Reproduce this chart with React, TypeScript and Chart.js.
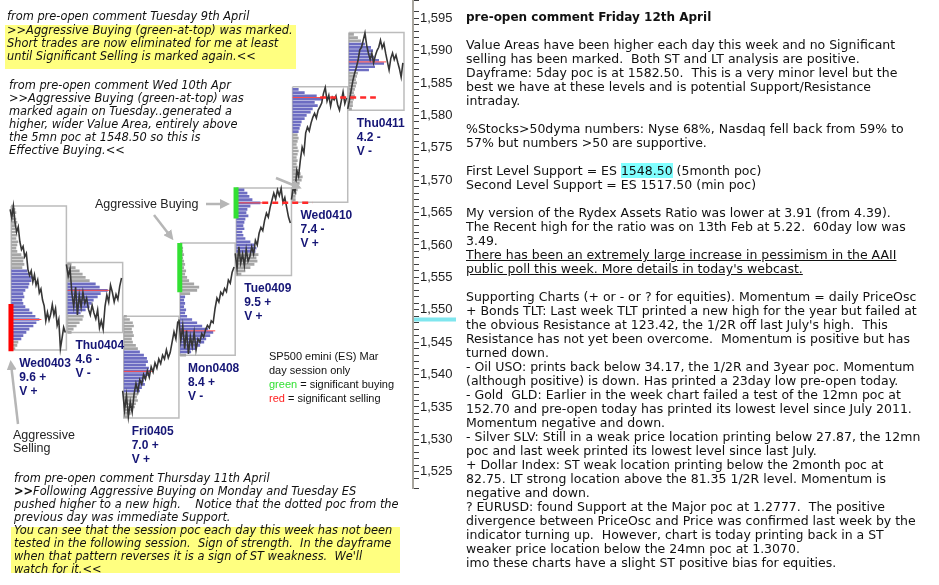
import React, { useEffect, useRef, useState } from 'react';
import { Chart, registerables } from 'chart.js';

Chart.register(...registerables);

// ---------------- data ----------------
const dayNames = ['Wed0403', 'Thu0404', 'Fri0405', 'Mon0408', 'Tue0409', 'Wed0410', 'Thu0411'];
const dayRangeScore = ['9.6 +', '4.6 -', '7.0 +', '8.4 +', '9.5 +', '7.4 -', '4.2 -'];
const dayVolumeTag = ['V +', 'V -', 'V +', 'V -', 'V +', 'V +', 'V -'];
const dayHigh = [1566.0, 1557.3, 1549.0, 1560.3, 1568.8, 1584.4, 1592.8];
const dayLow = [1543.8, 1546.5, 1533.3, 1543.0, 1555.3, 1566.6, 1580.8];
const dayPoc = [1548.5, 1553.0, 1540.5, 1546.75, 1566.5, 1582.75, 1588.25];
const vaHigh = [1556, 1554, 1543.5, 1552, 1568.5, 1584, 1591];
const vaLow = [1545.5, 1549.5, 1537.5, 1543.5, 1559, 1577.5, 1587];
const profileTop = [1566, 1557, 1549, 1560, 1568.5, 1584, 1592.5];
const profileStep = 0.5;
const volumePerDayWidth = 56;

const profileWed0403 = [3, 4, 5, 4, 5, 6, 5, 4, 5, 6, 5, 7, 6, 5, 6, 10, 13, 12, 13, 11, 16, 19, 21, 20, 18, 17, 14, 12, 13, 11, 12, 14, 18, 21, 24, 28, 25, 22, 18, 15, 12, 10, 7, 6, 4];
const profileThu0404 = [4, 8, 12, 15, 18, 22, 28, 32, 40, 33, 30, 26, 24, 22, 18, 13, 16, 15, 12, 9, 6, 4];
const profileFri0405 = [3, 6, 9, 10, 8, 9, 10, 8, 9, 12, 14, 16, 20, 23, 24, 22, 25, 27, 24, 22, 20, 21, 18, 16, 14, 13, 14, 12, 11, 9, 7, 4];
const profileMon0408 = [2, 3, 3, 4, 3, 4, 5, 4, 6, 5, 7, 9, 14, 19, 17, 10, 5, 4, 5, 4, 6, 5, 7, 12, 17, 22, 28, 33, 30, 26, 24, 20, 16, 11, 6];
const profileTue0409 = [8, 11, 13, 16, 24, 14, 11, 10, 12, 9, 8, 7, 8, 6, 7, 9, 14, 18, 20, 19, 22, 20, 21, 18, 14, 9, 5];
const profileWed0410 = [6, 12, 24, 30, 22, 25, 20, 18, 14, 12, 9, 8, 7, 6, 5, 6, 5, 4, 5, 6, 5, 4, 5, 4, 5, 6, 8, 10, 9, 7, 6, 5, 4, 3, 3];
const profileThu0411 = [5, 9, 12, 16, 22, 24, 22, 25, 30, 35, 26, 20, 9, 8, 7, 8, 7, 6, 5, 6, 5, 4, 4, 3];
const profiles = [profileWed0403, profileThu0404, profileFri0405, profileMon0408, profileTue0409, profileWed0410, profileThu0411];

const priceWed0403 = [1565.5, 1564.2, 1566.0, 1563.5, 1562.0, 1562.8, 1560.5, 1559.3, 1559.8, 1558.2, 1558.7, 1556.2, 1555.3, 1556.0, 1554.3, 1555.4, 1553.8, 1554.6, 1552.6, 1553.2, 1551.5, 1550.6, 1548.3, 1549.6, 1548.4, 1549.3, 1550.8, 1549.2, 1550.2, 1547.6, 1548.5, 1544.0, 1545.6, 1547.3, 1546.5];
const priceThu0404 = [1557.0, 1555.2, 1556.3, 1552.5, 1550.5, 1553.5, 1549.2, 1552.3, 1550.4, 1552.7, 1551.0, 1551.8, 1550.1, 1549.2, 1550.7, 1549.5, 1548.6, 1550.0, 1547.2, 1548.3, 1547.0, 1550.5, 1552.3, 1551.2, 1553.8, 1552.7, 1551.2, 1552.4, 1551.6, 1553.6, 1554.9];
const priceFri0405 = [1537.5, 1534.5, 1536.8, 1533.5, 1535.8, 1534.2, 1537.0, 1538.6, 1537.4, 1539.2, 1538.5, 1540.0, 1539.3, 1540.6, 1539.6, 1541.2, 1540.4, 1541.8, 1541.0, 1542.4, 1541.7, 1543.0, 1542.4, 1543.8, 1542.6, 1543.4, 1545.0, 1546.6, 1545.5, 1548.2];
const priceMon0408 = [1548.5, 1545.2, 1547.5, 1544.0, 1546.8, 1543.2, 1545.9, 1544.3, 1546.5, 1543.8, 1545.5, 1545.0, 1546.3, 1545.8, 1546.9, 1547.6, 1547.2, 1548.3, 1548.0, 1550.2, 1551.8, 1551.2, 1552.7, 1552.3, 1553.3, 1552.8, 1554.6, 1554.1, 1555.8, 1556.6];
const priceTue0409 = [1558.7, 1556.4, 1559.7, 1557.2, 1558.6, 1556.8, 1559.3, 1557.5, 1558.2, 1559.7, 1558.6, 1560.7, 1560.0, 1561.8, 1562.7, 1562.2, 1563.8, 1564.9, 1564.3, 1565.8, 1566.9, 1568.0, 1567.1, 1568.5, 1567.6, 1568.7, 1566.5, 1567.3, 1565.8, 1564.3, 1563.4];
const priceWed0410 = [1567.0, 1568.9, 1568.2, 1571.5, 1570.6, 1573.1, 1575.1, 1574.2, 1577.3, 1578.2, 1577.6, 1578.8, 1579.7, 1580.3, 1579.6, 1580.8, 1581.3, 1581.9, 1583.4, 1584.3, 1582.2, 1583.1, 1581.4, 1582.8, 1582.4, 1583.0, 1581.6, 1580.8, 1582.2, 1583.6, 1581.8, 1582.7];
const priceThu0411 = [1581.0, 1582.3, 1583.9, 1585.4, 1586.5, 1587.4, 1588.5, 1590.1, 1590.5, 1591.6, 1592.7, 1590.8, 1589.6, 1588.6, 1589.6, 1588.1, 1589.2, 1590.0, 1590.5, 1591.6, 1590.4, 1591.1, 1589.6, 1588.3, 1587.0, 1588.8, 1589.6, 1588.6, 1589.3, 1588.2, 1587.2, 1585.9, 1588.1];
const prices = [priceWed0403, priceThu0404, priceFri0405, priceMon0408, priceTue0409, priceWed0410, priceThu0411];

const signalDay = [0, 3, 4];
const signalColor = ['#ff0000', '#33e033', '#33e033'];
const signalTop = [1550.9, 1560.3, 1568.9];
const signalBottom = [1543.6, 1552.7, 1564.1];

const pocCarryDay = [4, 5];
const pocCarryStart = [4.48, 5.51];
const pocCarryEnd = [5.37, 6.5];

const yTickValues = [1525, 1530, 1535, 1540, 1545, 1550, 1555, 1560, 1565, 1570, 1575, 1580, 1585, 1590, 1595];
const yTickLabels = ['1,525', '1,530', '1,535', '1,540', '1,545', '1,550', '1,555', '1,560', '1,565', '1,570', '1,575', '1,580', '1,585', '1,590', '1,595'];
const supportLevel = 1548.5;

// ---------------- texts ----------------
const noteTuesdayHead = 'from pre-open comment Tuesday 9th April';
const noteTuesdayBody = ['>>Aggressive Buying (green-at-top) was marked.', 'Short trades are now eliminated for me at least', 'until Significant Selling is marked again.<<'];
const noteWednesday = ['from pre-open comment Wed 10th Apr', '>>Aggressive Buying (green-at-top) was', 'marked again on Tuesday..generated a', 'higher, wider Value Area, entirely above', 'the 5mn poc at 1548.50 so this is', 'Effective Buying.<<'];
const noteThursdayHead = ['from pre-open comment Thursday 11th April', 'Following Aggressive Buying on Monday and Tuesday ES', 'pushed higher to a new high.    Notice that the dotted poc from the', 'previous day was immediate Support.'];
const noteThursdayBody = ['You can see that the session poc each day this week has not been', 'tested in the following session.  Sign of strength.  In the dayframe', "when that pattern reverses it is a sign of ST weakness.  We'll", 'watch for it.<<'];
const legendLines = ['SP500 emini (ES) Mar', 'day session only'];

const rightTitle = 'pre-open comment Friday 12th April';
const rightLines = [
  '',
  'Value Areas have been higher each day this week and no Significant',
  'selling has been marked.  Both ST and LT analysis are positive.',
  'Dayframe: 5day poc is at 1582.50.  This is a very minor level but the',
  'best we have at these levels and is potential Support/Resistance',
  'intraday.',
  '',
  '%Stocks>50dyma numbers: Nyse 68%, Nasdaq fell back from 59% to',
  '57% but numbers >50 are supportive.',
  '',
  'First Level Support = ES |1548.50| (5month poc)',
  'Second Level Support = ES 1517.50 (min poc)',
  '',
  'My version of the Rydex Assets Ratio was lower at 3.91 (from 4.39).',
  'The Recent high for the ratio was on 13th Feb at 5.22.  60day low was',
  '3.49.',
  '_There has been an extremely large increase in pessimism in the AAII',
  "_public poll this week. More details in today's webcast.",
  '',
  'Supporting Charts (+ or - or ? for equities). Momentum = daily PriceOsc',
  '+ Bonds TLT: Last week TLT printed a new high for the year but failed at',
  "the obvious Resistance at 123.42, the 1/2R off last July's high.  This",
  'Resistance has not yet been overcome.  Momentum is positive but has',
  'turned down.',
  '- Oil USO: prints back below 34.17, the 1/2R and 3year poc. Momentum',
  '(although positive) is down. Has printed a 23day low pre-open today.',
  '- Gold  GLD: Earlier in the week chart failed a test of the 12mn poc at',
  '152.70 and pre-open today has printed its lowest level since July 2011.',
  'Momentum negative and down.',
  '- Silver SLV: Still in a weak price location printing below 27.87, the 12mn',
  'poc and last week printed its lowest level since last July.',
  '+ Dollar Index: ST weak location printing below the 2month poc at',
  '82.75. LT strong location above the 81.35 1/2R level. Momentum is',
  'negative and down.',
  '? EURUSD: found Support at the Major poc at 1.2777.  The positive',
  'divergence between PriceOsc and Price was confirmed last week by the',
  'indicator turning up.  However, chart is today printing back in a ST',
  'weaker price location below the 24mn poc at 1.3070.',
  'imo these charts have a slight ST positive bias for equities.',
];

const BOX_INSET = 0.02;

const supportLevelPlugin = {
  id: 'supportLevel',
  afterDraw(chart: any) {
    const y = chart.scales.y.getPixelForValue(supportLevel);
    const ctx = chart.ctx;
    ctx.save();
    ctx.fillStyle = '#7fe6ee';
    ctx.fillRect(chart.chartArea.right + 1, y - 2, 42, 4);
    ctx.restore();
  },
};

type Pt = { x: number; y: number | null };

function buildDatasets() {
  const gap = (x: number): Pt => ({ x, y: null });
  const boxes: Pt[] = [];
  const blueRows: Pt[] = [];
  const greyRows: Pt[] = [];
  const pocLines: Pt[] = [];
  const priceLine: Pt[] = [];
  const carry: Pt[] = [];

  dayNames.forEach((_, d) => {
    const l = d + BOX_INSET;
    const r = d + 1;
    boxes.push({ x: l, y: dayHigh[d] }, { x: r, y: dayHigh[d] }, { x: r, y: dayLow[d] }, { x: l, y: dayLow[d] }, { x: l, y: dayHigh[d] }, gap(l));

    const vols = profiles[d];
    vols.forEach((v, k) => {
      const p = profileTop[d] - k * profileStep;
      const target = p <= vaHigh[d] && p >= vaLow[d] ? blueRows : greyRows;
      target.push({ x: l, y: p }, { x: l + v / volumePerDayWidth, y: p }, gap(l));
    });
    const maxVol = Math.max(...vols);
    pocLines.push({ x: l, y: dayPoc[d] }, { x: l + (maxVol + 2) / volumePerDayWidth, y: dayPoc[d] }, gap(l));

    const series = prices[d];
    series.forEach((p, k) => {
      priceLine.push({ x: d + (k / (series.length - 1)) * 0.98, y: p });
    });
    priceLine.push(gap(d + 0.99));
  });

  pocCarryDay.forEach((d, i) => {
    carry.push({ x: pocCarryStart[i], y: dayPoc[d] }, { x: pocCarryEnd[i], y: dayPoc[d] }, gap(pocCarryEnd[i]));
  });

  const signals = signalDay.map((d, i) => ({
    data: [{ x: d + 0.015, y: signalTop[i] }, { x: d + 0.015, y: signalBottom[i] }],
    borderColor: signalColor[i],
    borderWidth: 5,
    borderCapStyle: 'butt',
  }));

  return [
    ...signals,
    { data: carry, borderColor: '#ff2a2a', borderWidth: 2.5, borderDash: [6, 4] },
    { data: priceLine, borderColor: '#363636', borderWidth: 1.6 },
    { data: pocLines, borderColor: '#ff4a4a', borderWidth: 1 },
    { data: blueRows, borderColor: '#6d6dc2', borderWidth: 2.7, borderCapStyle: 'butt' },
    { data: greyRows, borderColor: '#a6a6a6', borderWidth: 2.7, borderCapStyle: 'butt' },
    { data: boxes, borderColor: '#bcbcbc', borderWidth: 1.5 },
  ];
}

const leftFont = '"DejaVu Sans", Verdana, sans-serif';
const sansFont = '"Liberation Sans", Arial, sans-serif';

export default function App() {
  const canvasRef = useRef<HTMLCanvasElement | null>(null);
  const [labelPos, setLabelPos] = useState<{ left: number; top: number }[]>([]);

  useEffect(() => {
    const canvas = canvasRef.current;
    if (!canvas) return;
    const chart = new Chart(canvas, {
      type: 'line',
      data: { datasets: buildDatasets() as any },
      options: {
        animation: false,
        responsive: false,
        events: [],
        layout: { padding: { left: 0, top: 0, right: 0, bottom: 97 } },
        plugins: { legend: { display: false }, tooltip: { enabled: false } },
        elements: { point: { radius: 0 }, line: { tension: 0 } },
        scales: {
          x: { type: 'linear', display: false, min: -0.18, max: 7.16 },
          y: {
            type: 'linear',
            position: 'right',
            min: 1522.5,
            max: 1597.8,
            grid: { drawOnChartArea: false, drawTicks: true, tickLength: 6, color: '#3c3c3c', lineWidth: 1 },
            border: { display: true, color: '#a9a69e', width: 2 },
            ticks: {
              stepSize: 1,
              autoSkip: false,
              padding: 1,
              color: '#1e1e1e',
              font: { family: sansFont, size: 13 },
              callback: (v: any) => {
                const i = yTickValues.indexOf(Number(v));
                return i >= 0 ? yTickLabels[i] : '';
              },
            },
            afterFit: (s: any) => {
              s.width = 57;
              s.paddingTop = 0;
              s.paddingBottom = 0;
            },
          },
        },
      } as any,
      plugins: [supportLevelPlugin],
    });
    const xs = chart.scales.x;
    const ys = chart.scales.y;
    setLabelPos(dayNames.map((_, d) => ({ left: xs.getPixelForValue(d) + 9, top: ys.getPixelForValue(dayLow[d]) + 6 })));
    return () => chart.destroy();
  }, []);

  const abs = (left: number, top: number, extra: any = {}) => ({ position: 'absolute' as const, left, top, whiteSpace: 'pre' as const, ...extra });
  const italic = { fontFamily: leftFont, fontStyle: 'italic', fontSize: 11.4, lineHeight: '13px', color: '#111' };

  return (
    <div style={{ position: 'absolute', left: 0, top: 0, width: 939, height: 585, background: '#fff', overflow: 'hidden' }}>
      <canvas ref={canvasRef} width={470} height={585} style={{ position: 'absolute', left: 0, top: 0, width: 470, height: 585 }} />

      <svg width={470} height={585} style={{ position: 'absolute', left: 0, top: 0, pointerEvents: 'none' }}>
        <defs>
          <marker id="ah" markerWidth="4" markerHeight="4" refX="2.4" refY="2" orient="auto">
            <path d="M0,0 L4,2 L0,4 z" fill="#b6b6b6" />
          </marker>
        </defs>
        <g stroke="#b6b6b6" strokeWidth={2.5} fill="none" markerEnd="url(#ah)">
          <line x1={206} y1={204} x2={226} y2={204} />
          <line x1={154} y1={215} x2={171} y2={237} />
          <line x1={18} y1={424} x2={11} y2={364} />
          <line x1={276} y1={178} x2={298} y2={187} />
        </g>
      </svg>

      {/* Tuesday note */}
      <div style={abs(7, 10, italic)}>{noteTuesdayHead}</div>
      <div style={{ position: 'absolute', left: 5, top: 25, width: 291, height: 44, background: '#ffff80' }} />
      <div style={abs(7, 24, italic)}>{noteTuesdayBody.map((l, i) => <div key={i}>{l}</div>)}</div>

      {/* Wednesday note */}
      <div style={abs(9, 79, italic)}>{noteWednesday.map((l, i) => <div key={i}>{l}</div>)}</div>

      {/* Thursday note */}
      <div style={abs(14, 472, italic)}>
        {noteThursdayHead.map((l, i) => (
          <div key={i}>{i === 1 ? <><b style={{ fontStyle: 'normal' }}>{'>>'}</b>{l}</> : l}</div>
        ))}
      </div>
      <div style={{ position: 'absolute', left: 11, top: 527, width: 389, height: 46, background: '#ffff80' }} />
      <div style={abs(14, 524, italic)}>{noteThursdayBody.map((l, i) => <div key={i}>{l}</div>)}</div>

      {/* chart annotations */}
      <div style={abs(95, 197, { fontFamily: sansFont, fontSize: 12.5, lineHeight: '14px', color: '#222' })}>Aggressive Buying</div>
      <div style={abs(13, 429, { fontFamily: sansFont, fontSize: 12.5, lineHeight: '13px', color: '#222' })}>
        <div>Aggressive</div>
        <div>Selling</div>
      </div>
      <div style={abs(269, 349, { fontFamily: sansFont, fontSize: 11, lineHeight: '14px', color: '#111' })}>
        {legendLines.map((l, i) => <div key={i}>{l}</div>)}
        <div><span style={{ color: '#33e033' }}>green</span> = significant buying</div>
        <div><span style={{ color: '#ff2020' }}>red</span> = significant selling</div>
      </div>

      {labelPos.map((p, d) => (
        <div key={d} style={abs(p.left, p.top, { fontFamily: sansFont, fontWeight: 'bold', fontSize: 12, lineHeight: '14px', color: '#161676' })}>
          <div>{dayNames[d]}</div>
          <div>{dayRangeScore[d]}</div>
          <div>{dayVolumeTag[d]}</div>
        </div>
      ))}

      {/* right commentary */}
      <div style={abs(466, 10, { fontFamily: leftFont, fontSize: 12.5, lineHeight: '14px', color: '#111' })}>
        <div style={{ fontWeight: 'bold', fontSize: 12 }}>{rightTitle}</div>
        {rightLines.map((l, i) => {
          if (l === '') return <div key={i}>{'\u00a0'}</div>;
          if (l.startsWith('_')) return <div key={i}><span style={{ textDecoration: 'underline' }}>{l.slice(1)}</span></div>;
          if (l.includes('|')) {
            const [a, b, c] = l.split('|');
            return <div key={i}>{a}<span style={{ background: '#80ffff' }}>{b}</span>{c}</div>;
          }
          return <div key={i}>{l}</div>;
        })}
      </div>
    </div>
  );
}
